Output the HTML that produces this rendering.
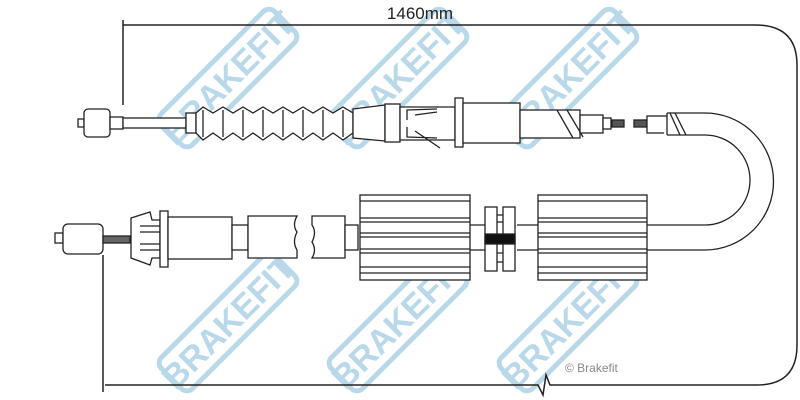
<!DOCTYPE html>
<html><head><meta charset="utf-8"><style>
html,body{margin:0;padding:0;background:#fff;width:800px;height:400px;overflow:hidden}
svg{display:block}
</style></head><body>
<svg width="800" height="400" viewBox="0 0 800 400" xmlns="http://www.w3.org/2000/svg" font-family="Liberation Sans, sans-serif">
<defs>
<g id="wm">
<rect x="-80" y="-22" width="160" height="44" rx="8" fill="none" stroke="#b9d9ea" stroke-width="5"/>
<text x="0" y="12" text-anchor="middle" font-size="34" font-weight="bold" fill="#b9d9ea">BRAKEFIT</text>
</g>
</defs>
<use href="#wm" transform="translate(228,78) rotate(-45)"/>
<use href="#wm" transform="translate(398,78) rotate(-45)"/>
<use href="#wm" transform="translate(568,78) rotate(-45)"/>
<use href="#wm" transform="translate(228,322) rotate(-45)"/>
<use href="#wm" transform="translate(398,322) rotate(-45)"/>
<use href="#wm" transform="translate(568,322) rotate(-45)"/>

<g fill="none" stroke="#222" stroke-width="1.5">
<!-- dimension -->
<path d="M123,105 V20"/>
<path d="M123,25 H755 Q797,25 797,65 V345 Q797,385 757,385 H550 L546,375 L543,395 L538,385 H105"/>
<path d="M103,255 V392"/>
</g>
<text x="420" y="19" text-anchor="middle" font-size="17" fill="#222">1460mm</text>
<text x="565" y="372" font-size="12" fill="#888">© Brakefit</text>

<g fill="#fff" stroke="#222" stroke-width="1.3">
<!-- TOP cable -->
<rect x="78" y="119" width="6" height="8"/>
<rect x="84" y="109" width="26" height="28" rx="4"/>
<rect x="110" y="117" width="13" height="12"/>
<rect x="123" y="118" width="63" height="10"/>
<rect x="186" y="113" width="10" height="20"/>
<path d="M196,113 L203,107 L213,113 L223,107 L233,113 L243,107 L253,113 L263,107 L273,113 L283,107 L293,113 L303,107 L313,113 L323,107 L333,113 L343,107 L353,113 L353,133 L343,140 L333,133 L323,140 L313,133 L303,140 L293,133 L283,140 L273,133 L263,140 L253,133 L243,140 L233,133 L223,140 L213,133 L203,140 L196,133 Z"/>
<path d="M203,110 V137 M223,110 V137 M243,110 V137 M263,110 V137 M283,110 V137 M303,110 V137 M323,110 V137 M343,110 V137"/>
<path d="M353,109 L385,105 L385,141 L353,138 Z"/>
<rect x="385" y="104" width="15" height="38"/>
<path d="M400,107 H455 V140 H400 Z"/>
<path d="M407,120 V110 L437,109 M407,127 V137 L437,138 M415,115 L437,112 M415,131 L440,148"/>
<rect x="455" y="98" width="8" height="49"/>
<rect x="463" y="103" width="57" height="40"/>
<rect x="520" y="110" width="60" height="28"/>
<path d="M557,110 L573,138 M567,110 L583,137" />
<rect x="580" y="115" width="23" height="18"/>
<rect x="603" y="118" width="8" height="11"/>
<rect x="612" y="120" width="12" height="7" fill="#555"/>
<rect x="634" y="120" width="13" height="7" fill="#555"/>
<rect x="647" y="116" width="20" height="17"/>
<path d="M667,113 H705 A68,68 0 0 1 705,250 H647 M667,135 H705 A45,45 0 0 1 705,225 H647 M667,113 V135"/>
<path d="M670,113 L680,135 M675,113 L686,135"/>

<!-- BOTTOM cable -->
<rect x="55" y="233" width="8" height="10"/>
<rect x="63" y="224" width="40" height="30" rx="5"/>
<rect x="103" y="236" width="27" height="7" fill="#666"/>
<path d="M131,218 L150,212 L152,220 L160,220 L160,258 L152,258 L150,265 L131,258 Z"/>
<path d="M140,226 H160 M140,232 H160 M140,244 H160 M140,250 H160"/>
<rect x="160" y="211" width="8" height="56"/>
<rect x="168" y="217" width="64" height="42"/>
<rect x="232" y="225" width="16" height="25"/>
<path d="M248,216 H297 Q292,225 297,232 Q292,242 297,250 L297,258 H248 Z"/>
<path d="M312,216 H345 V258 H312 Q317,250 312,242 Q317,232 312,225 Z"/>
<rect x="345" y="225" width="13" height="25"/>
<rect x="360" y="195" width="110" height="85"/>
<path d="M360,201 H470 M360,218 H470 M360,222 H470 M360,233 H470 M360,237 H470 M360,249 H470 M360,253 H470 M360,267 H470 M360,273 H470"/>
<path d="M470,225 H485 M470,250 H485 M517,225 H540 M517,250 H540"/>
<rect x="485" y="207" width="12" height="64"/>
<rect x="503" y="207" width="12" height="64"/>
<path d="M497,215 H503 M497,222 H503 M497,253 H503 M497,262 H503"/>
<rect x="485" y="234" width="30" height="10" fill="#111"/>
<rect x="538" y="195" width="109" height="85"/>
<path d="M538,201 H647 M538,218 H647 M538,222 H647 M538,233 H647 M538,237 H647 M538,249 H647 M538,253 H647 M538,267 H647 M538,273 H647"/>
</g>
</svg>
</body></html>
